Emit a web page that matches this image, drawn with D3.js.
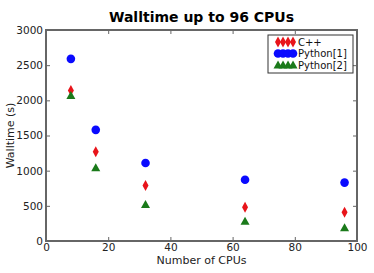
<!DOCTYPE html>
<html>
<head>
  <meta charset="utf-8">
  <script src="https://d3js.org/d3.v7.min.js"></script>
  <style>
    body { margin: 0; background: #fff; }
    text { font-family: "DejaVu Sans", sans-serif; }
  </style>
</head>
<body>
  <div id="chart"></div>
  <script>
  // data
  var cpus = [8, 16, 32, 64, 96];
  var cpp = [2140, 1270, 790, 480, 410];
  var python1 = [2590, 1580, 1110, 870, 830];
  var python2 = [2070, 1040, 520, 280, 190];
  var seriesNames = ["C++", "Python[1]", "Python[2]"];
  var xTicks = [0, 20, 40, 60, 80, 100];
  var yTicks = [0, 500, 1000, 1500, 2000, 2500, 3000];

  var W = 374, H = 273;
  var margin = {top: 30, right: 17, bottom: 32, left: 46},
      width = W - margin.left - margin.right,
      height = H - margin.top - margin.bottom;

  var svg = d3.select("#chart").append("svg")
      .attr("width", W).attr("height", H);
  var g = svg.append("g")
      .attr("transform", "translate(" + margin.left + "," + margin.top + ")");

  var x = d3.scaleLinear().domain([0, 100]).range([0, width]);
  var y = d3.scaleLinear().domain([0, 3000]).range([height, 0]);

  var axisColor = "#666";
  var fmt = d3.format("d");

  // ticks pointing inwards, on all four sides
  function styleAxis(sel) {
    sel.select(".domain").remove();
    sel.selectAll(".tick line").attr("stroke", axisColor);
    sel.selectAll(".tick text").attr("fill", "#222").style("font-size", "10.5px");
  }
  g.append("g").attr("transform", "translate(0," + height + ")")
    .call(d3.axisBottom(x).tickValues(xTicks).tickFormat(fmt).tickSizeInner(-4).tickSizeOuter(0).tickPadding(3))
    .call(styleAxis);
  g.append("g")
    .call(d3.axisTop(x).tickValues(xTicks).tickSizeInner(-4).tickSizeOuter(0).tickFormat(""))
    .call(styleAxis);
  g.append("g")
    .call(d3.axisLeft(y).tickValues(yTicks).tickFormat(fmt).tickSizeInner(-4).tickSizeOuter(0).tickPadding(3))
    .call(styleAxis);
  g.append("g").attr("transform", "translate(" + width + ",0)")
    .call(d3.axisRight(y).tickValues(yTicks).tickSizeInner(-4).tickSizeOuter(0).tickFormat(""))
    .call(styleAxis);

  // frame
  g.append("rect")
    .attr("width", width).attr("height", height)
    .attr("fill", "none").attr("stroke", axisColor).attr("stroke-width", 2);

  var diamond = "M0,-5.5L3,0L0,5.5L-3,0Z";
  var triangle = "M0,-4.5L4.5,3.5L-4.5,3.5Z";
  var series = [
    {name: seriesNames[0], values: cpp, color: "#e8141a", shape: "diamond"},
    {name: seriesNames[1], values: python1, color: "#0a0aff", shape: "circle"},
    {name: seriesNames[2], values: python2, color: "#1a7a1a", shape: "triangle"}
  ];

  function drawMarker(sel, s) {
    if (s.shape === "circle") {
      sel.append("circle").attr("r", 4.3).attr("fill", s.color);
    } else {
      sel.append("path").attr("d", s.shape === "diamond" ? diamond : triangle)
        .attr("fill", s.color);
    }
  }

  series.forEach(function(s) {
    g.append("g").selectAll("g")
      .data(s.values)
      .enter().append("g")
        .attr("transform", function(d, i) {
          return "translate(" + x(cpus[i]) + "," + y(d) + ")";
        })
        .each(function() { drawMarker(d3.select(this), s); });
  });

  // legend
  var legend = svg.append("g").attr("transform", "translate(268,35)");
  legend.append("rect")
    .attr("width", 85).attr("height", 38)
    .attr("fill", "#fff").attr("stroke", "#333").attr("stroke-width", 1);
  series.forEach(function(s, i) {
    var row = legend.append("g").attr("transform", "translate(0," + (7 + i * 11.5) + ")");
    [10, 15, 20, 25].forEach(function(mx) {
      drawMarker(row.append("g").attr("transform", "translate(" + mx + ",0)"), s);
    });
    row.append("text").attr("x", 30).attr("y", 3.5)
      .style("font-size", "10px").attr("fill", "#111").text(s.name);
  });

  // title and axis labels
  svg.append("text")
    .attr("x", margin.left + width / 2).attr("y", 22)
    .attr("text-anchor", "middle")
    .style("font-size", "14px").style("font-weight", "bold")
    .text("Walltime up to 96 CPUs");
  svg.append("text")
    .attr("x", margin.left + width / 2).attr("y", 264)
    .attr("text-anchor", "middle")
    .style("font-size", "11px").attr("fill", "#222")
    .text("Number of CPUs");
  svg.append("text")
    .attr("transform", "translate(14," + (margin.top + height / 2) + ") rotate(-90)")
    .attr("text-anchor", "middle")
    .style("font-size", "11px").attr("fill", "#222")
    .text("Walltime (s)");
  </script>
</body>
</html>
